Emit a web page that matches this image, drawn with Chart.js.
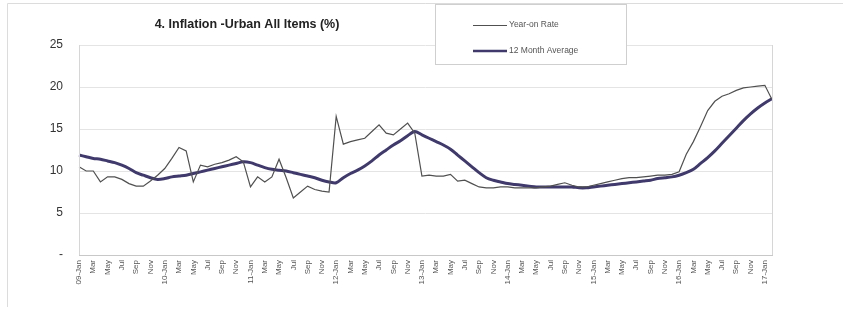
<!DOCTYPE html>
<html>
<head>
<meta charset="utf-8">
<script src="https://cdn.jsdelivr.net/npm/chart.js@4/dist/chart.umd.min.js"></script>
<style>
  html, body { margin: 0; padding: 0; background: #fff; }
  #wrap { width: 843px; height: 309px; position: relative; }
</style>
</head>
<body>
<div id="wrap"><canvas id="inflChart" width="843" height="309"></canvas></div>
<script>
// years / months used to build the monthly categories (Jan 2009 - Feb 2017)
var years = ['09', '10', '11', '12', '13', '14', '15', '16', '17'];
var monthNames = ['Jan', 'Feb', 'Mar', 'Apr', 'May', 'Jun', 'Jul', 'Aug', 'Sep', 'Oct', 'Nov', 'Dec'];

var yoyRate = [
    10.5, 10.0, 10.0, 8.7, 9.3, 9.3, 9.0, 8.5, 8.2, 8.2, 8.8, 9.5,
    10.3, 11.5, 12.8, 12.4, 8.7, 10.7, 10.5, 10.8, 11.0, 11.3, 11.7, 11.1,
    8.1, 9.3, 8.7, 9.3, 11.4, 9.2, 6.8, 7.5, 8.2, 7.8, 7.6, 7.5,
    16.5, 13.2, 13.5, 13.7, 13.9, 14.7, 15.5, 14.5, 14.3, 15.0, 15.7, 14.5,
    9.4, 9.5, 9.4, 9.4, 9.6, 8.8, 8.9, 8.5, 8.1, 8.0, 8.0, 8.1,
    8.1, 8.0, 8.0, 8.0, 8.0, 8.1, 8.2, 8.4, 8.6, 8.3, 8.1, 8.1,
    8.3, 8.5, 8.7, 8.9, 9.1, 9.2, 9.2, 9.3, 9.4, 9.5, 9.5, 9.6,
    9.9, 12.0, 13.5, 15.3, 17.2, 18.3, 18.9, 19.2, 19.6, 19.9, 20.0, 20.1,
    20.2, 18.5
];

var avg12 = [
    11.9, 11.7, 11.5, 11.4, 11.2, 11.0, 10.7, 10.3, 9.8, 9.5, 9.2, 9.0,
    9.1, 9.3, 9.4, 9.5, 9.7, 9.9, 10.1, 10.3, 10.5, 10.7, 10.9, 11.1,
    11.0, 10.7, 10.4, 10.2, 10.1, 10.0, 9.8, 9.6, 9.4, 9.2, 8.9, 8.7,
    8.6, 9.2, 9.7, 10.1, 10.6, 11.2, 11.9, 12.5, 13.1, 13.6, 14.2, 14.7,
    14.3, 13.9, 13.5, 13.1, 12.6, 11.9, 11.2, 10.5, 9.8, 9.2, 8.9, 8.7,
    8.5, 8.4, 8.3, 8.2, 8.1, 8.1, 8.1, 8.1, 8.1, 8.1, 8.0, 8.0,
    8.1, 8.2, 8.3, 8.4, 8.5, 8.6, 8.7, 8.8, 8.9, 9.1, 9.2, 9.3,
    9.5, 9.8, 10.2, 10.9, 11.6, 12.4, 13.3, 14.2, 15.1, 16.0, 16.8, 17.5,
    18.1, 18.6
];

var yTicks = [0, 5, 10, 15, 20, 25];
var seriesNames = ['Year-on Rate', '12 Month Average'];
var chartTitle = '4. Inflation -Urban All Items (%)';

var categories = [];
for (var i = 0; i < yoyRate.length; i++) {
    var m = i % 12;
    var yr = years[Math.floor(i / 12)];
    categories.push(m === 0 ? yr + '-' + monthNames[m] : monthNames[m]);
}

var thinColor = '#505050';
var thickColor = '#3f3a6b';

// frame, title and legend box like the spreadsheet chart
var decorPlugin = {
    id: 'decor',
    afterDraw: function (chart) {
        var ctx = chart.ctx;
        var area = chart.chartArea;
        ctx.save();
        // outer frame
        ctx.strokeStyle = '#dcdcdc';
        ctx.lineWidth = 1;
        ctx.beginPath();
        ctx.moveTo(7.5, 307);
        ctx.lineTo(7.5, 3.5);
        ctx.lineTo(843, 3.5);
        ctx.stroke();
        // plot border
        ctx.strokeStyle = '#d6d6d6';
        ctx.beginPath();
        ctx.moveTo(Math.round(area.left) + 0.5, area.top);
        ctx.lineTo(Math.round(area.left) + 0.5, area.bottom);
        ctx.moveTo(Math.round(area.right) + 0.5, area.top);
        ctx.lineTo(Math.round(area.right) + 0.5, area.bottom);
        ctx.stroke();
        // title
        ctx.fillStyle = '#222';
        ctx.font = 'bold 12.5px "Liberation Sans", Arial, sans-serif';
        ctx.textAlign = 'center';
        ctx.textBaseline = 'middle';
        ctx.fillText(chartTitle, 247, 25);
        // legend
        ctx.fillStyle = '#fff';
        ctx.fillRect(435, 4, 192, 61);
        ctx.strokeStyle = '#cfcfcf';
        ctx.strokeRect(435.5, 4.5, 191, 60);
        ctx.strokeStyle = thinColor;
        ctx.lineWidth = 1;
        ctx.beginPath();
        ctx.moveTo(473, 25.5);
        ctx.lineTo(507, 25.5);
        ctx.stroke();
        ctx.strokeStyle = thickColor;
        ctx.lineWidth = 2.5;
        ctx.beginPath();
        ctx.moveTo(473, 51);
        ctx.lineTo(507, 51);
        ctx.stroke();
        ctx.fillStyle = '#555';
        ctx.font = '8.5px "Liberation Sans", Arial, sans-serif';
        ctx.textAlign = 'left';
        ctx.fillText(seriesNames[0], 509, 25);
        ctx.fillText(seriesNames[1], 509, 51);
        ctx.restore();
    }
};

var ctx = document.getElementById('inflChart');
var inflChart = new Chart(ctx, {
    type: 'line',
    data: {
        labels: categories,
        datasets: [{
                label: seriesNames[0],
                data: yoyRate,
                borderColor: thinColor,
                borderWidth: 1.2,
                pointRadius: 0,
                tension: 0,
                fill: false
            }, {
                label: seriesNames[1],
                data: avg12,
                borderColor: thickColor,
                borderWidth: 3,
                pointRadius: 0,
                tension: 0.3,
                fill: false
            }]
    },
    options: {
        responsive: false,
        animation: false,
        layout: {
            padding: { left: 0, right: 71, top: 45, bottom: 0 }
        },
        plugins: {
            legend: { display: false },
            title: { display: false },
            tooltip: { enabled: false }
        },
        scales: {
            x: {
                type: 'category',
                offset: false,
                afterFit: function (scale) { scale.height = 54; },
                grid: { display: false, drawTicks: false },
                border: { display: true, color: '#c8c8c8', dash: [2, 2] },
                ticks: {
                    autoSkip: false,
                    minRotation: 90,
                    maxRotation: 90,
                    padding: 5,
                    color: '#555',
                    font: { size: 8, family: '"Liberation Sans", Arial, sans-serif' },
                    callback: function (value, index) {
                        return index % 2 === 0 ? this.getLabelForValue(value) : '';
                    }
                }
            },
            y: {
                min: yTicks[0],
                max: yTicks[yTicks.length - 1],
                afterFit: function (scale) { scale.width = 79; },
                afterBuildTicks: function (scale) {
                    scale.ticks = yTicks.map(function (v) { return { value: v }; });
                },
                grid: { color: '#e4e4e4', drawTicks: false },
                border: { display: false },
                ticks: {
                    padding: 16,
                    color: '#333',
                    font: { size: 12, family: '"Liberation Sans", Arial, sans-serif' },
                    callback: function (v) { return v === 0 ? '-' : v; }
                }
            }
        }
    },
    plugins: [decorPlugin]
});
</script>
</body>
</html>
